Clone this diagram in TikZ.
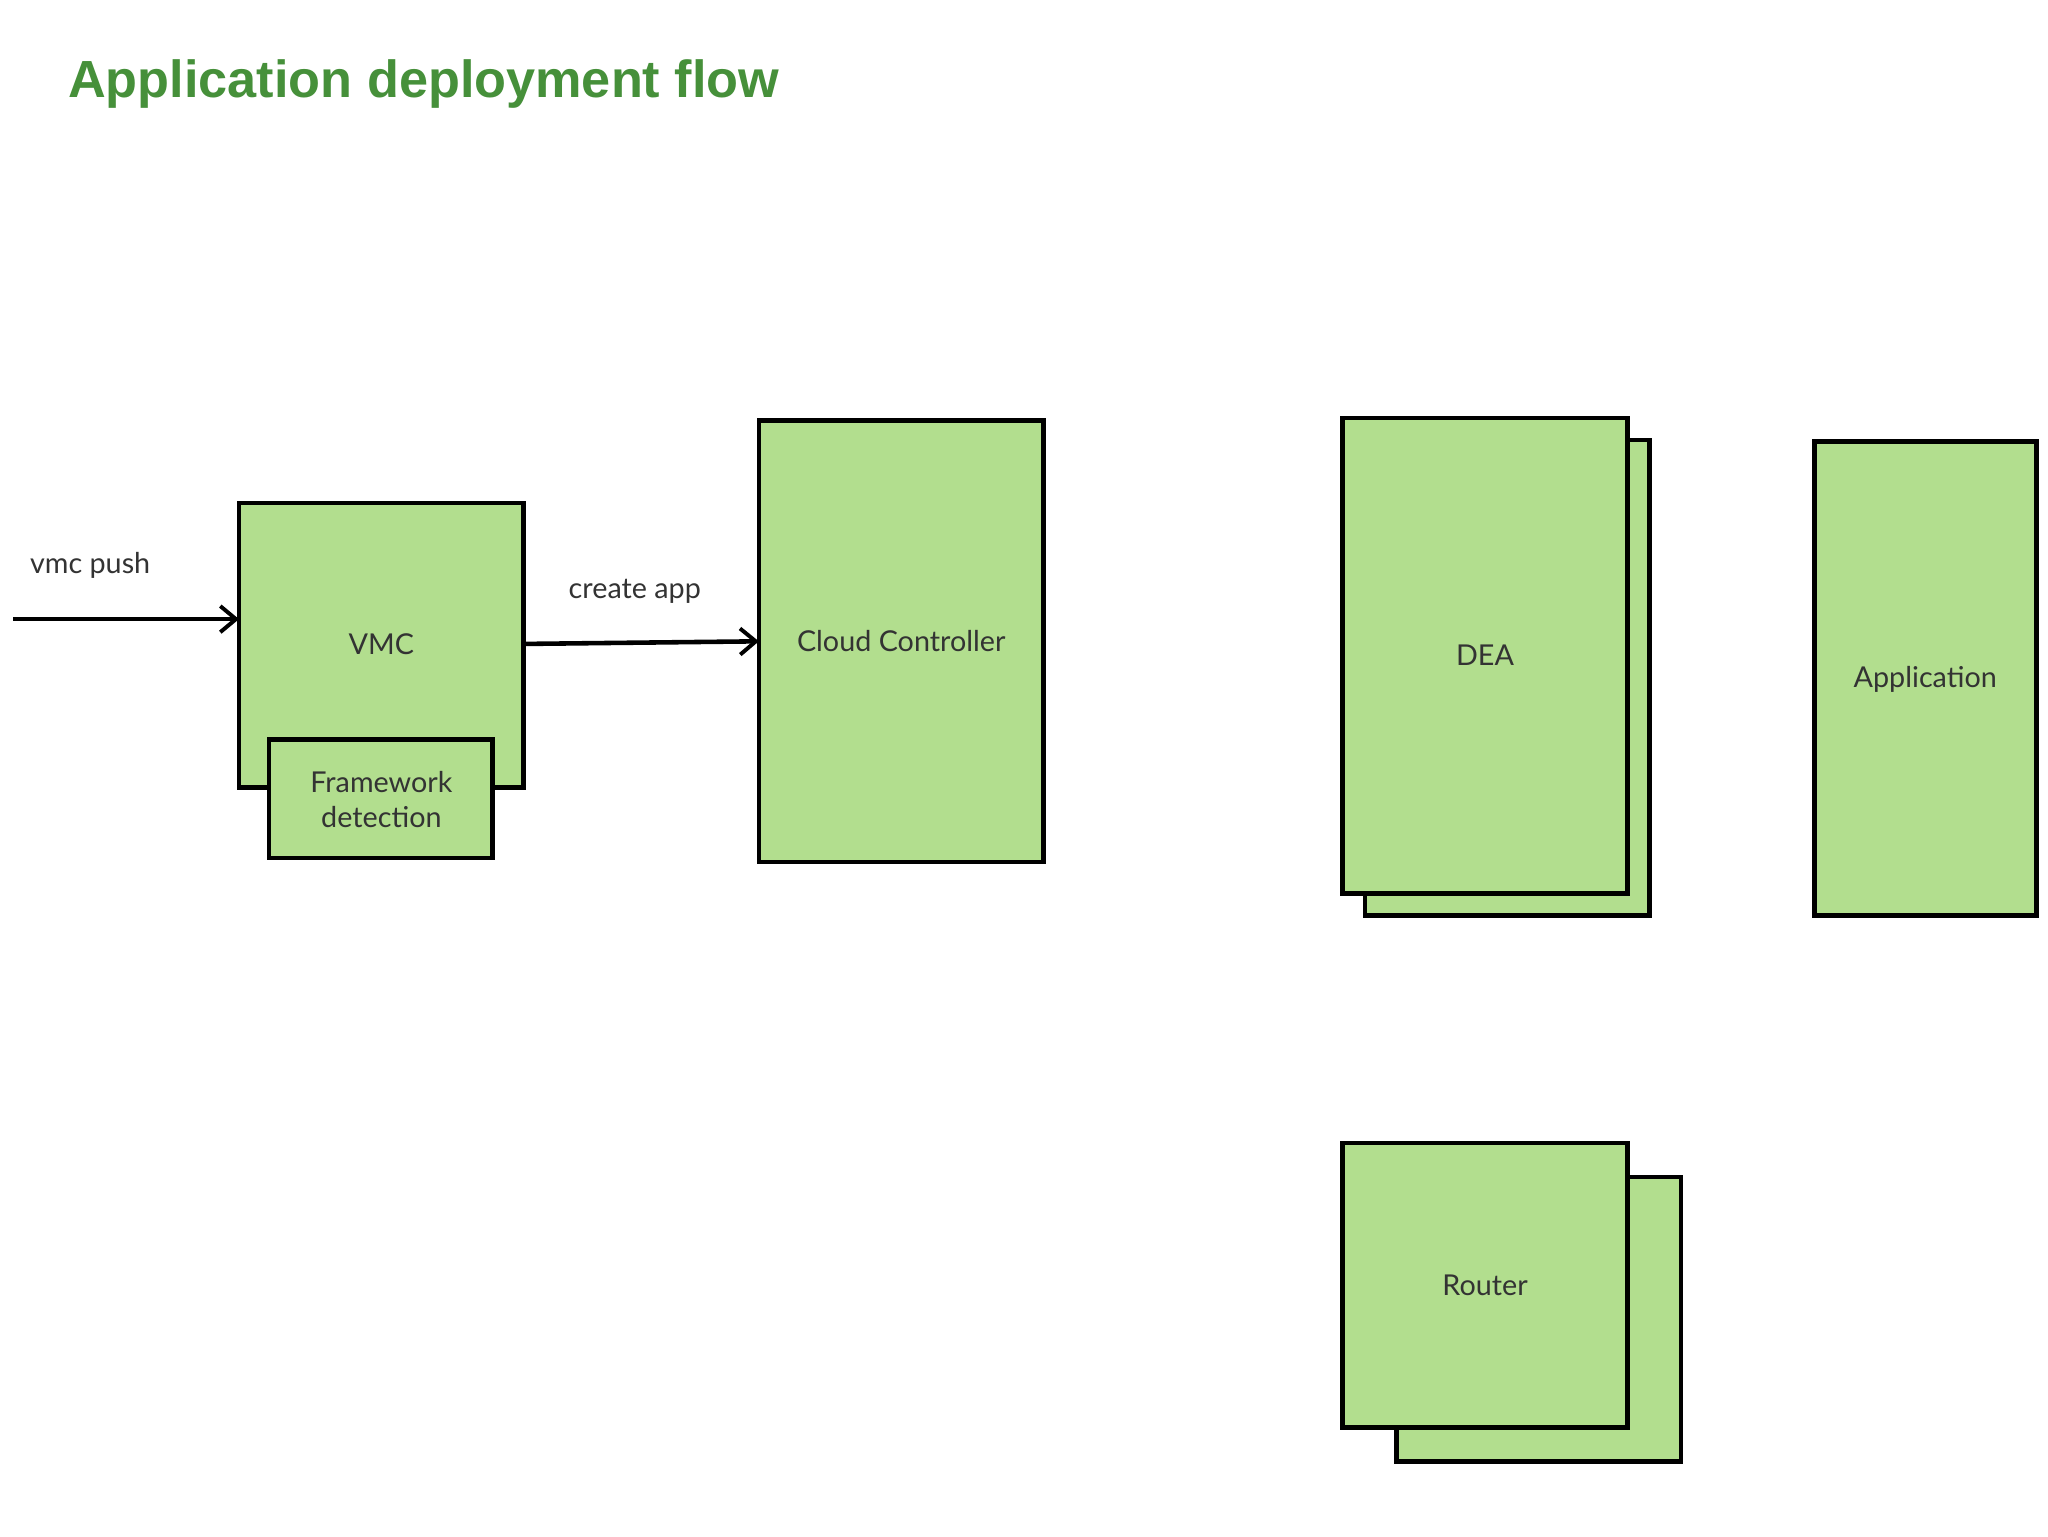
\documentclass[tikz,border=0pt]{standalone}
\usepackage{fontspec}
\setmainfont{Lato}
\newfontfamily\titlefont{Liberation Sans}
\usetikzlibrary{arrows.meta}
\definecolor{boxgreen}{HTML}{B2DE8E}
\definecolor{titlegreen}{HTML}{46903A}
\definecolor{txt}{HTML}{333333}
\tikzset{
  box/.style={draw=black, line width=3.5pt, fill=boxgreen},
  lbl/.style={text=txt, font=\fontsize{22}{27}\selectfont, align=center},
  arr/.style={line width=3.5pt, -{Straight Barb[length=12pt,width=20pt,line width=3pt]}}
}
\begin{document}
\begin{tikzpicture}[x=1pt,y=-1pt]
\useasboundingbox[fill=white] (0,0) rectangle (1568,1176);
\node[anchor=base west, text=titlegreen, font=\titlefont\bfseries\fontsize{40}{48}\selectfont, inner sep=0] (title) at (52,75) {Application deployment flow};
% VMC
\draw[box] (183,385) rectangle (401,603);
\node[lbl] (vmc) at (292,493) {VMC};
\draw[box] (206,566) rectangle (377,657);
\node[lbl] (fw) at (292,612) {Framework\\detection};
\coordinate (vmcL) at (183,474);
\coordinate (vmcR) at (401,493);
% Cloud controller
\draw[box] (581,322) rectangle (799,660);
\node[lbl] (cc) at (690,491) {Cloud Controller};
\coordinate (ccL) at (581,491);
% DEA
\draw[box] (1045,337) rectangle (1263,701);
\draw[box] (1028,320) rectangle (1246,684);
\node[lbl] (dea) at (1137,502) {DEA};
% Application
\draw[box] (1389,338) rectangle (1559,701);
\node[lbl] (app) at (1474,520) {Application};
% Router
\draw[box] (1069,901) rectangle (1287,1119);
\draw[box] (1028,875) rectangle (1246,1093);
\node[lbl] (router) at (1137,984) {Router};
% arrows
\coordinate (start) at (10,474);
\draw[arr] (start) -- (vmcL);
\node[lbl] (push) at (69,433) {vmc push};
\draw[arr] (vmcR) -- (ccL);
\node[lbl] (create) at (486,453) {create app};
\end{tikzpicture}
\end{document}
